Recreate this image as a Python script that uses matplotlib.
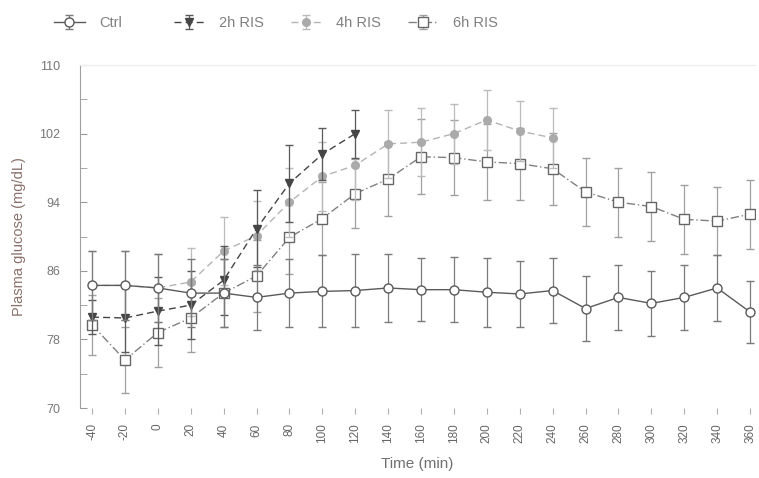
import numpy as np
import matplotlib
matplotlib.use('Agg')
import matplotlib.pyplot as plt

plt.rcParams['font.family'] = ['Liberation Sans', 'DejaVu Sans']

# time points (min)
t_all = [-40, -20, 0, 20, 40, 60, 80, 100, 120, 140, 160, 180, 200, 220, 240,
         260, 280, 300, 320, 340, 360]

ctrl = [84.3, 84.3, 84.0, 83.4, 83.4, 82.9, 83.4, 83.6, 83.7, 84.0, 83.8, 83.8,
        83.5, 83.3, 83.7, 81.6, 82.9, 82.2, 82.9, 84.0, 81.2]
ctrl_err = [4.0, 4.0, 4.0, 4.0, 4.0, 3.8, 4.0, 4.2, 4.3, 4.0, 3.7, 3.8, 4.0,
            3.8, 3.8, 3.8, 3.8, 3.8, 3.8, 3.8, 3.6]

t_2h = [-40, -20, 0, 20, 40, 60, 80, 100, 120]
ris2 = [80.6, 80.5, 81.3, 82.0, 84.9, 90.9, 96.2, 99.6, 102.0]
ris2_err = [2.0, 4.0, 4.0, 4.0, 4.0, 4.5, 4.5, 3.0, 2.8]

t_4h = [-40, -20, 0, 20, 40, 60, 80, 100, 120, 140, 160, 180, 200, 220, 240]
ris4 = [84.3, 84.3, 84.0, 84.7, 88.3, 90.1, 94.0, 97.0, 98.3, 100.8, 101.0,
        102.0, 103.6, 102.3, 101.5]
ris4_err = [4.0, 4.0, 4.0, 4.0, 4.0, 4.0, 4.0, 4.0, 4.0, 4.0, 4.0, 3.5, 3.5,
            3.5, 3.5]

ris6 = [79.7, 75.6, 78.8, 80.5, 83.4, 85.4, 89.9, 92.1, 95.0, 96.7, 99.3, 99.2,
        98.7, 98.5, 97.9, 95.2, 94.0, 93.5, 92.0, 91.8, 92.6]
ris6_err = [3.5, 3.8, 4.0, 4.0, 4.0, 4.2, 4.3, 4.2, 4.0, 4.3, 4.4, 4.4, 4.4,
            4.2, 4.2, 4.0, 4.0, 4.0, 4.0, 4.0, 4.0]

yticks = [70, 78, 86, 94, 102, 110]

fig = plt.figure(figsize=(7.59, 4.78), dpi=100)
ax = fig.add_axes([0.1054, 0.1464, 0.8893, 0.7176])

e6 = ax.errorbar(t_all, ris6, yerr=ris6_err, color='#808080', ls=(0, (6, 2, 1, 2)),
                 lw=1.0, marker='s', ms=6.5, mfc='white', mec='#666666', mew=1.0,
                 ecolor='#a0a0a0', elinewidth=0.9, capsize=3, label='6h RIS', zorder=2)
e4 = ax.errorbar(t_4h, ris4, yerr=ris4_err, color='#b4b4b4', ls=(0, (5, 3)),
                 lw=1.0, marker='o', ms=5.5, mfc='#aaaaaa', mec='#aaaaaa',
                 ecolor='#bbbbbb', elinewidth=0.9, capsize=3, label='4h RIS', zorder=3)
e2 = ax.errorbar(t_2h, ris2, yerr=ris2_err, color='#454545', ls=(0, (5, 3)),
                 lw=1.0, marker='v', ms=5.5, mfc='#454545', mec='#454545',
                 ecolor='#5a5a5a', elinewidth=0.9, capsize=3, label='2h RIS', zorder=4)
ec = ax.errorbar(t_all, ctrl, yerr=ctrl_err, color='#5a5a5a', ls='-',
                 lw=1.0, marker='o', ms=6.5, mfc='white', mec='#5a5a5a', mew=1.0,
                 ecolor='#7a7a7a', elinewidth=0.9, capsize=3, label='Ctrl', zorder=5)

ax.set_xlim(-47.3, 363)
ax.set_ylim(70, 110)
ax.set_xticks(t_all)
ax.set_xticklabels([str(v) for v in t_all], rotation=90, fontsize=8.5, color='#666666')
ax.set_yticks(yticks)
ax.set_yticks(np.arange(74, 110, 8), minor=True)
ax.set_yticklabels([str(v) for v in yticks], fontsize=9, color='#777777')
ax.tick_params(axis='y', which='both', direction='in', length=5, color='#999999', pad=14)
ax.tick_params(axis='x', length=4, color='#b0b0b0', pad=7)

ax.spines['bottom'].set_visible(False)
ax.spines['right'].set_visible(False)
ax.spines['top'].set_color('#ececec')
ax.spines['left'].set_color('#a0a0a0')

ax.set_xlabel('Time (min)', fontsize=11, color='#707070', labelpad=10)
ax.set_ylabel('Plasma glucose (mg/dL)', fontsize=10.5, color='#8a706a', labelpad=10)

# legend entries spaced evenly along the top
leg_x = [0.071, 0.229, 0.383, 0.537]
for h, lab, x in zip([ec, e2, e4, e6], ['Ctrl', '2h RIS', '4h RIS', '6h RIS'], leg_x):
    leg = fig.legend([h], [lab], loc='center left', bbox_to_anchor=(x, 0.952),
                     frameon=False, fontsize=10.5, handlelength=2.1,
                     handletextpad=1.0, borderpad=0, borderaxespad=0)
    for txt in leg.get_texts():
        txt.set_color('#808080')

fig.savefig('out.png', dpi=100)
